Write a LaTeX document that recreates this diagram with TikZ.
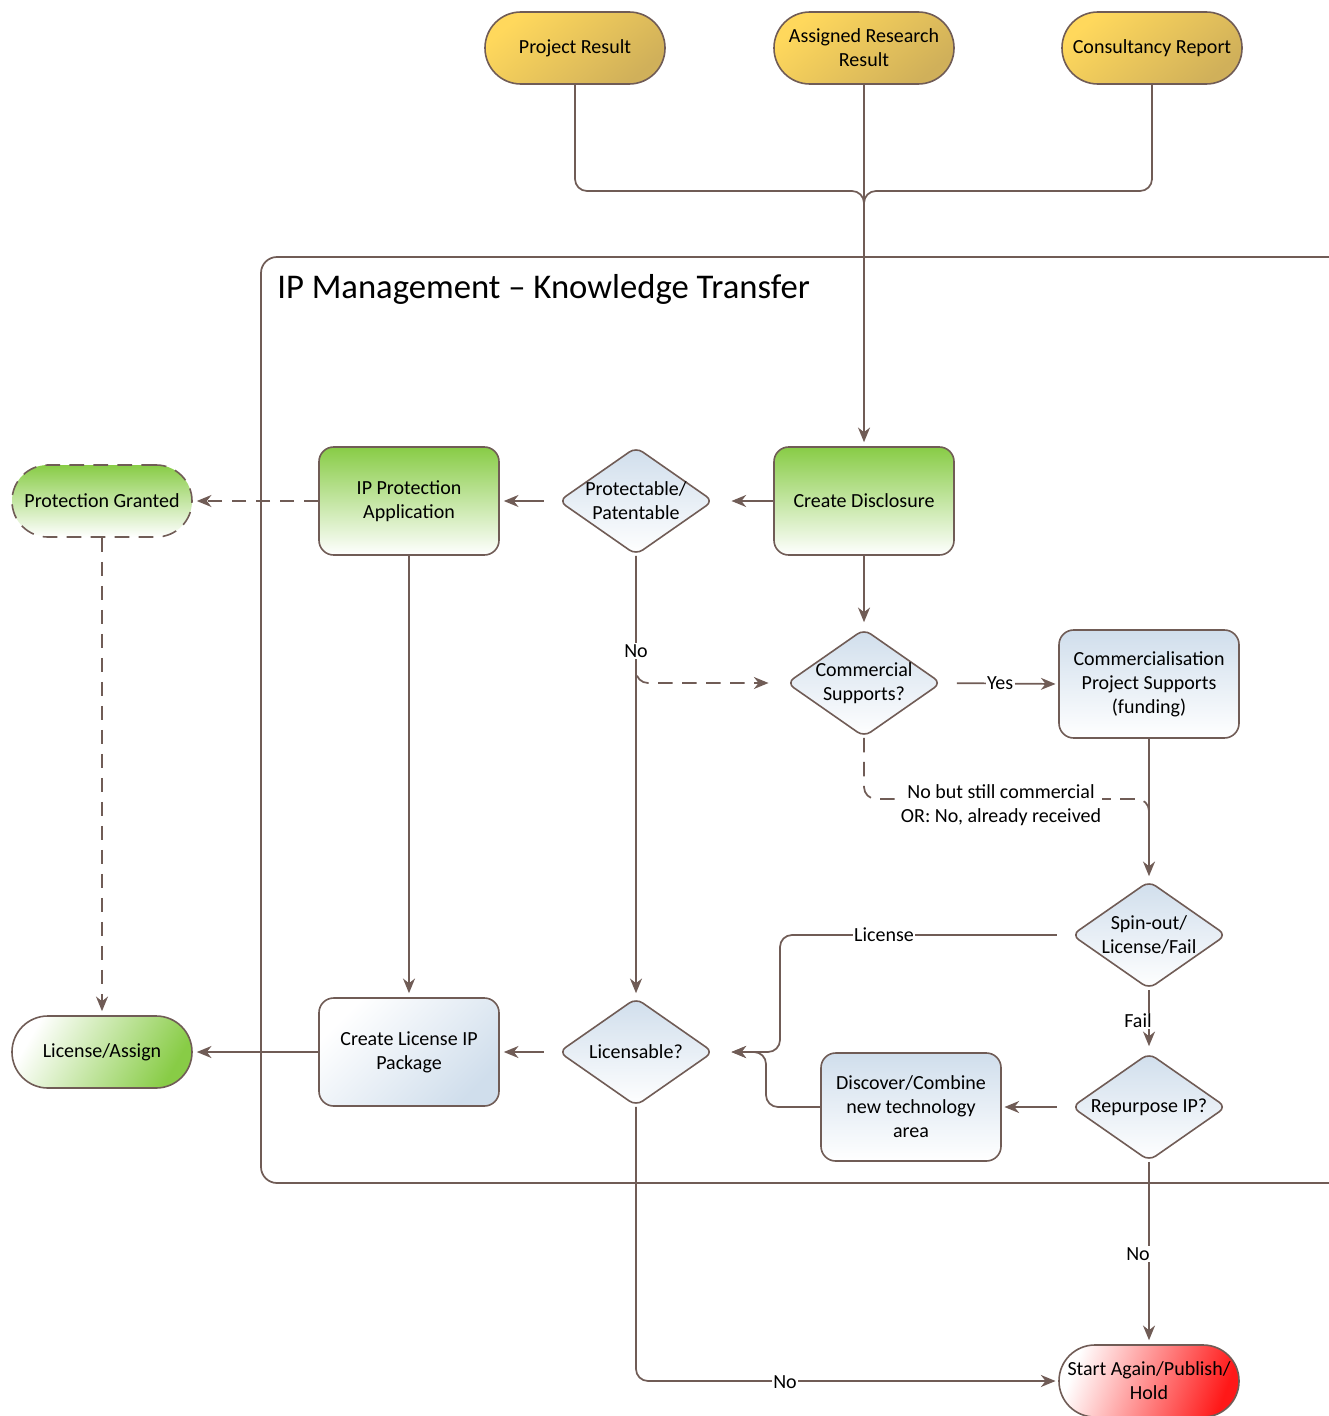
\documentclass[tikz,border=0pt]{standalone}
\usepackage{fontspec}
\setmainfont{Carlito}
\usetikzlibrary{shapes.geometric,arrows.meta}
\definecolor{lc}{RGB}{112,92,86}
\definecolor{grn}{RGB}{136,204,70}
\definecolor{ylwA}{RGB}{255,216,92}
\definecolor{ylwB}{RGB}{208,176,90}
\definecolor{blu}{RGB}{208,222,236}
\definecolor{rd}{RGB}{255,24,24}
\newcommand{\fs}{\fontsize{15}{18}\selectfont}
\tikzset{
  ln/.style={draw=lc, line width=1.3pt},
  arr/.style={ln, -{Stealth[length=11pt,width=9pt,inset=3.5pt]}},
  dsh/.style={dash pattern=on 11pt off 7pt},
  lbl/.style={fill=white, inner sep=1pt, font=\fs, align=center},
  txt/.style={font=\fs, align=center, inner sep=0pt},
  box/.style={draw=lc, line width=1.2pt, rounded corners=11pt, minimum width=135pt, minimum height=81pt, align=center, font=\fs, inner sep=2pt},
  term/.style={draw=lc, line width=1.2pt, rounded corners=26.9pt, minimum width=135pt, minimum height=54pt, align=center, font=\fs, inner sep=2pt},
  dia/.style={draw=lc, line width=1.2pt, diamond, minimum width=116pt, minimum height=81pt, inner sep=0pt, rounded corners=6pt, top color=blu, bottom color=white},
  gbox/.style={box, top color=grn, bottom color=white},
  bbox/.style={box, top color=blu, bottom color=white},
  ybox/.style={term, top color=ylwA, bottom color=ylwB, shading angle=40},
}
\begin{document}
\begin{tikzpicture}[x=0.75pt,y=-0.75pt]
\useasboundingbox (0,0) rectangle (1328,1416);
% container
\draw[ln, rounded corners=12pt] (1400,257) -- (261,257) -- (261,1183) -- (1400,1183);
\node[anchor=base west, font=\fontsize{26}{31}\selectfont, inner sep=0pt] (title) at (277,298) {IP Management -- Knowledge Transfer};

% top terminals
\node[ybox] (pr) at (575,48) {Project Result};
\node[ybox] (ar) at (864,48) {Assigned Research\\Result};
\node[ybox] (cr) at (1152,48) {Consultancy Report};

% main nodes
\node[gbox] (cd) at (864,501) {Create Disclosure};
\node[dia] (pp) at (636,501) {};
\node[txt] (ppt) at (pp) {Protectable/\\Patentable};
\node[gbox] (ip) at (409,501) {IP Protection\\Application};
\node[term, top color=grn, bottom color=white, dsh] (pg) at (102,501) {Protection Granted};

\node[dia] (cs) at (864,683) {};
\node[txt] (cst) at (cs) {Commercial\\Supports?};
\node[bbox] (cps) at (1149,684) {Commercialisation\\Project Supports\\(funding)};

\node[dia] (so) at (1149,935) {};
\node[txt] (sot) at (so) {Spin-out/\\License/Fail};
\node[dia] (rp) at (1149,1107) {};
\node[txt] (rpt) at (rp) {Repurpose IP?};
\node[bbox] (dc) at (911,1107) {Discover/Combine\\new technology\\area};

\node[dia] (lic) at (636,1052) {};
\node[txt] (lict) at (lic) {Licensable?};
\node[box, top color=white, bottom color=blu, shading angle=45] (clp) at (409,1052) {Create License IP\\Package};
\node[term, top color=white, bottom color=grn, shading angle=60] (la) at (102,1052) {License/Assign};
\node[term, top color=white, bottom color=rd, shading angle=70] (sa) at (1149,1381) {Start Again/Publish/\\Hold};

% coordinates
\coordinate (m1) at (864,191);
\coordinate (m2) at (864,240);
\coordinate (j1) at (1149,799);
\coordinate (j2) at (1149,840);
\coordinate (k1) at (780,1000);
\coordinate (k2) at (766,1080);

% top merge
\draw[ln, rounded corners=9pt] (pr.south) |- (m1) -- (m2);
\draw[ln, rounded corners=9pt] (cr.south) |- (m1) -- (m2);
\draw[arr, shorten >=3pt] (ar.south) -- (cd.north);

% upper row
\draw[arr, shorten >=13pt] (cd.west) -- (pp.east);
\draw[arr, shorten <=10.5pt, shorten >=3pt] (pp.west) -- (ip.east);
\draw[arr, dsh, shorten >=3pt] (ip.west) -- (pg.east);
\draw[arr, dsh, shorten >=3pt] (pg.south) -- (la.north);
\draw[arr, shorten >=3pt] (ip.south) -- (clp.north);
\draw[arr, shorten >=3pt] (pp.south) -- (lic.north);
\draw[arr, dsh, rounded corners=9pt, shorten >=13pt] (pp.south) |- (cs.west);
\node[lbl] (no1) at (636,651) {No};

% commercial
\draw[arr, shorten >=4.5pt] (cd.south) -- (cs.north);
\draw[arr, shorten <=11pt, shorten >=2pt] (cs.east) -- node[lbl] (yes) {Yes} (cps.west);
\draw[arr, shorten >=3pt] (cps.south) -- (so.north);
\draw[ln, dsh, rounded corners=9pt] (cs.south) |- (j1) -- (j2);
\node[lbl] (nbs) at (1001,805) {No but still commercial\\OR: No, already received};

% lower right
\draw[arr, rounded corners=9pt, shorten <=10.5pt, shorten >=13pt] (so.west) -| (k1) |- (lic.east);
\node[lbl] (lcl) at (884,935) {License};
\draw[arr, shorten >=4.5pt] (so.south) -- (rp.north);
\node[lbl] (fail) at (1138,1021) {Fail};
\draw[arr, shorten <=10.5pt, shorten >=2pt] (rp.west) -- (dc.east);
\draw[arr, rounded corners=9pt, shorten >=13pt] (dc.west) -| (k2) |- (lic.east);

% lower left
\draw[arr, shorten <=10.5pt, shorten >=3pt] (lic.west) -- (clp.east);
\draw[arr, shorten >=3pt] (clp.west) -- (la.east);

% bottom
\draw[arr, rounded corners=9pt, shorten >=2pt] (lic.south) |- (sa.west);
\node[lbl] (no2) at (785,1382) {No};
\draw[arr, shorten >=3pt] (rp.south) -- (sa.north);
\node[lbl] (no3) at (1138,1254) {No};
\end{tikzpicture}
\end{document}
